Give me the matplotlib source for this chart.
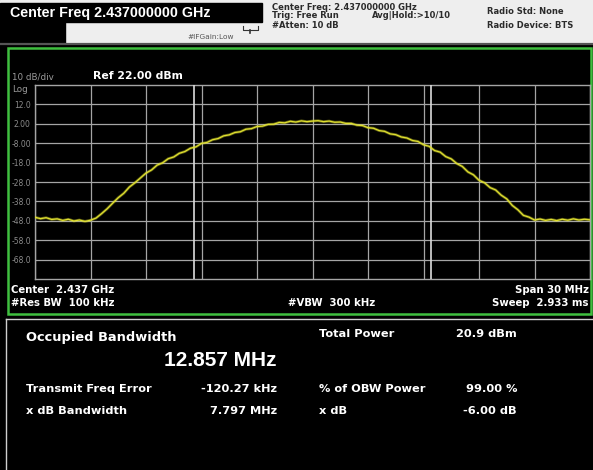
import matplotlib.pyplot as plt
import numpy as np
from matplotlib.patches import Rectangle

AR = ['Liberation Sans', 'DejaVu Sans']
DV = ['DejaVu Sans']
plt.rcParams['font.family'] = AR

# --- analyzer settings ---
center_ghz = 2.437
span_mhz = 30.0
ref_dbm = 22.0
db_per_div = 10.0
obw_mhz = 12.857

ytick_labels = ['12.0', '2.00', '-8.00', '-18.0', '-28.0', '-38.0', '-48.0', '-58.0', '-68.0']

# trace (dBm), sweep points equally spaced across the span
trace_dbm = [
    -46.2, -46.9, -46.4, -47.3, -47.0, -47.8, -47.2, -48.1, -47.6, -48.3,
    -47.7, -46.6, -44.3, -41.8, -38.9, -36.1, -33.8, -30.6, -28.4, -25.9,
    -23.4, -21.8, -19.3, -18.1, -16.0, -15.1, -13.2, -12.3, -10.6, -9.9,
    -8.1, -7.6, -6.2, -5.6, -4.2, -3.7, -2.5, -2.1, -0.8, -0.5,
    0.6, 0.8, 1.7, 1.8, 2.7, 2.5, 3.3, 2.9, 3.5, 3.1,
    3.4, 3.6, 3.1, 3.4, 2.8, 2.9, 2.2, 2.2, 1.3, 1.1,
    0.0, -0.3, -1.5, -1.9, -3.2, -3.6, -4.8, -5.3, -6.6, -7.1,
    -8.8, -9.6, -11.8, -12.6, -14.9, -16.1, -18.5, -20.0, -22.8, -24.3,
    -27.1, -28.4, -30.9, -32.1, -34.8, -36.7, -40.1, -42.3, -45.2, -46.1,
    -47.6, -47.1, -47.8, -47.3, -47.9, -47.2, -47.7, -47.0, -47.6, -47.2,
    -47.5,
]

W, H = 593, 470
fig = plt.figure(figsize=(W / 100, H / 100), dpi=100, facecolor='black')

# background layer in pixel coordinates
bg = fig.add_axes([0, 0, 1, 1])
bg.set_xlim(0, W)
bg.set_ylim(H, 0)
bg.axis('off')
bg.set_facecolor('black')

# header strip
bg.add_patch(Rectangle((0, 0), W, 43, color='#eeeeee', zorder=1))
bg.add_patch(Rectangle((0, 3), 262, 19, color='black', zorder=2))
bg.add_patch(Rectangle((0, 22), 65, 21, color='black', zorder=2))
bg.plot([0, W], [44, 44], color='#555555', lw=1.6, zorder=2)
bg.text(10, 13, 'Center Freq 2.437000000 GHz', color='white', fontsize=10.3,
        fontweight='bold', va='center', ha='left', zorder=3)
hdr = dict(color='#2b2b2b', fontsize=6, fontweight='bold', va='center', ha='left',
           family=DV, zorder=3)
bg.text(272, 7, 'Center Freq: 2.437000000 GHz', **hdr)
bg.text(272, 16, 'Trig: Free Run', **hdr)
bg.text(372, 16, 'Avg|Hold:>10/10', **hdr)
bg.text(272, 25, '#Atten: 10 dB', **hdr)
bg.text(487, 11, 'Radio Std: None', **hdr)
bg.text(487, 26, 'Radio Device: BTS', **hdr)
bg.text(187, 37, '#IFGain:Low', color='#555555', fontsize=5.3, va='center', ha='left',
        family=DV, zorder=3)
# little input icon
bg.plot([243, 243, 258, 258], [26, 30, 30, 26], color='#333333', lw=0.8, zorder=3)
bg.plot([250, 250], [30, 33], color='#333333', lw=1.2, zorder=3)

# green display frame
bg.add_patch(Rectangle((8, 48), 583, 266, facecolor='none', edgecolor='#3fbf3f',
                       lw=1.8, zorder=4))
# result panel border
bg.plot([6, W], [318.5, 318.5], color='#cfcfcf', lw=1.0, zorder=3)
bg.plot([6, 6], [318.5, H], color='#cfcfcf', lw=1.0, zorder=3)

# labels inside the display
bg.text(12, 77, '10 dB/div', color='#9a9a9a', fontsize=6.3, va='center', family=DV, zorder=3)
bg.text(12, 89, 'Log', color='#9a9a9a', fontsize=6.3, va='center', family=DV, zorder=3)
bg.text(93, 76, 'Ref 22.00 dBm', color='white', fontsize=7.8, fontweight='bold',
        va='center', family=DV, zorder=3)
lab = dict(color='white', fontsize=7.3, fontweight='bold', va='center', family=DV, zorder=3)
bg.text(11, 290, 'Center  2.437 GHz', ha='left', **lab)
bg.text(11, 303, '#Res BW  100 kHz', ha='left', **lab)
bg.text(288, 303, '#VBW  300 kHz', ha='left', **lab)
bg.text(589, 290, 'Span 30 MHz', ha='right', **lab)
bg.text(589, 303, 'Sweep  2.933 ms', ha='right', **lab)

# result panel
res = dict(color='white', fontweight='bold', va='center', family=DV, zorder=3)
bg.text(26, 338, 'Occupied Bandwidth', fontsize=9.4, ha='left', **res)
bg.text(277, 360, f'{obw_mhz:.3f} MHz', fontsize=15, ha='right', color='white',
        fontweight='bold', va='center', zorder=3)
bg.text(26, 389, 'Transmit Freq Error', fontsize=8.2, ha='left', **res)
bg.text(277, 389, '-120.27 kHz', fontsize=8.2, ha='right', **res)
bg.text(26, 411, 'x dB Bandwidth', fontsize=8.2, ha='left', **res)
bg.text(277, 411, '7.797 MHz', fontsize=8.2, ha='right', **res)
bg.text(319, 334, 'Total Power', fontsize=8.2, ha='left', **res)
bg.text(517, 334, '20.9 dBm', fontsize=8.2, ha='right', **res)
bg.text(319, 389, '% of OBW Power', fontsize=8.2, ha='left', **res)
bg.text(517, 389, '99.00 %', fontsize=8.2, ha='right', **res)
bg.text(319, 411, 'x dB', fontsize=8.2, ha='left', **res)
bg.text(517, 411, '-6.00 dB', fontsize=8.2, ha='right', **res)

# --- spectrum graticule ---
x0, x1, y0, y1 = 35, 590, 85, 279
ax = fig.add_axes([x0 / W, 1 - y1 / H, (x1 - x0) / W, (y1 - y0) / H])
ax.set_facecolor('black')
ax.set_xlim(-span_mhz / 2, span_mhz / 2)
ax.set_ylim(ref_dbm - 10 * db_per_div, ref_dbm)
ax.set_xticks(np.linspace(-span_mhz / 2, span_mhz / 2, 11))
ax.set_xticklabels([])
yt = ref_dbm - db_per_div * np.arange(1, 10)
ax.set_yticks(yt)
ax.set_yticklabels(ytick_labels, family=DV)
ax.tick_params(axis='both', length=0, colors='#8c8c8c', labelsize=5.5, pad=3)
ax.grid(True, color='#a5a5a5', lw=0.9)
for s in ax.spines.values():
    s.set_color('#a5a5a5')
    s.set_linewidth(1.0)

# OBW markers
for m in (-obw_mhz / 2, obw_mhz / 2):
    ax.axvline(m, color='#dcdcdc', lw=1.2, zorder=3)

freq = np.linspace(-span_mhz / 2, span_mhz / 2, len(trace_dbm))
ax.plot(freq, trace_dbm, color='#d6d62c', lw=2.0, alpha=0.45, zorder=4)
ax.plot(freq, trace_dbm, color='#e0e030', lw=0.9, zorder=5)

fig.savefig('out.png', dpi=100, facecolor='black')
